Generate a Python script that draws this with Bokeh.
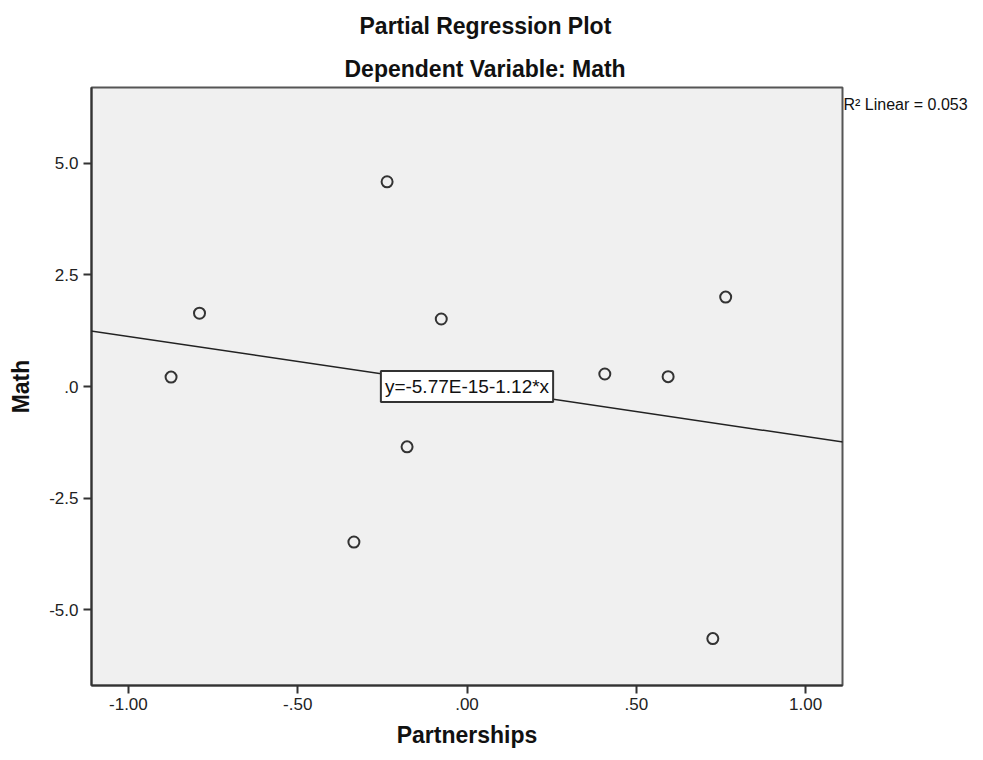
from bokeh.plotting import figure
from bokeh.models import Range1d, Label, Slope, FixedTicker, Title, LinearAxis
from bokeh.embed import file_html
from bokeh.resources import INLINE

# ---- data ----
partnerships = [-0.874, -0.790, -0.236, -0.076, -0.177, -0.334, 0.407, 0.594, 0.764, 0.726]
math_vals = [0.21, 1.64, 4.58, 1.51, -1.35, -3.48, 0.28, 0.22, 2.00, -5.64]
x_ticks = [-1.0, -0.5, 0.0, 0.5, 1.0]
x_tick_labels = ["-1.00", "-.50", ".00", ".50", "1.00"]
y_ticks = [-5.0, -2.5, 0.0, 2.5, 5.0]
y_tick_labels = ["-5.0", "-2.5", ".0", "2.5", "5.0"]
fit_intercept = -5.77e-15
fit_slope = -1.12
r_squared = 0.053
title_text = "Partial Regression Plot"
subtitle_text = "Dependent Variable: Math"
x_label = "Partnerships"
y_label = "Math"

FONT = "Liberation Sans"
DARK = "#333333"

p = figure(width=975, height=752, output_backend="svg", toolbar_location=None,
           x_range=Range1d(-1.109, 1.109), y_range=Range1d(-6.69, 6.69),
           min_border_left=91, min_border_right=133, min_border_top=87, min_border_bottom=67,
           title=None)

p.background_fill_color = "#f0f0f0"
p.border_fill_color = "white"
p.outline_line_color = "#555555"
p.outline_line_width = 2
p.grid.visible = False

for ax, ticks, labels in ((p.xaxis[0], x_ticks, x_tick_labels), (p.yaxis[0], y_ticks, y_tick_labels)):
    ax.ticker = FixedTicker(ticks=ticks)
    ax.major_label_overrides = {t: l for t, l in zip(ticks, labels)}
    ax.minor_tick_line_color = None
    ax.major_tick_in = 0
    ax.major_tick_out = 8
    ax.major_tick_line_color = DARK
    ax.major_tick_line_width = 2
    ax.axis_line_color = DARK
    ax.axis_line_width = 2
    ax.major_label_text_font = FONT
    ax.major_label_text_font_size = "17px"
    ax.major_label_text_color = "#222222"
    ax.axis_label_text_font = FONT
    ax.axis_label_text_font_size = "23px"
    ax.axis_label_text_font_style = "bold"
    ax.axis_label_text_color = "#111111"

p.xaxis.axis_label = x_label
p.yaxis.axis_label = y_label
p.xaxis.major_label_standoff = 4
p.yaxis.major_label_standoff = 5
p.xaxis.axis_label_standoff = 9
p.yaxis.axis_label_standoff = 12

# titles (first added sits closest to the frame)
p.add_layout(Title(text=subtitle_text, align="left", text_font=FONT, text_font_size="23px",
                   text_font_style="bold", text_color="#111111", standoff=12, offset=253), "above")
p.add_layout(Title(text=title_text, align="left", text_font=FONT, text_font_size="23px",
                   text_font_style="bold", text_color="#111111", standoff=18, offset=268), "above")

# regression line
p.add_layout(Slope(gradient=fit_slope, y_intercept=fit_intercept,
                   line_color="#222222", line_width=1.5))

# points
p.scatter(partnerships, math_vals, size=11, marker="circle",
          fill_color=None, line_color=DARK, line_width=2)

# equation box
eq_text = f"y={fit_intercept:.2E}{fit_slope:+.2f}*x".replace("E-0", "E-").replace("E+0", "E+")
p.add_layout(Label(x=0, y=fit_intercept, text=eq_text,
                   text_align="center", text_baseline="middle",
                   text_font=FONT, text_font_size="19px", text_color="#111111",
                   background_fill_color="white", border_line_color=DARK, border_line_width=2,
                   padding=dict(x=4, y=5)))

# R squared, shown at the top right just outside the frame (as a right-side axis tick label)
r2_anchor = 6.3
r2_axis = LinearAxis(ticker=FixedTicker(ticks=[r2_anchor]),
                     major_label_overrides={r2_anchor: f"R\u00b2 Linear = {r_squared:.3f}"},
                     axis_line_color=None, major_tick_line_color=None, minor_tick_line_color=None,
                     major_tick_in=0, major_tick_out=0, major_label_standoff=1,
                     major_label_text_font=FONT, major_label_text_font_size="16px",
                     major_label_text_color="#111111")
p.add_layout(r2_axis, "right")

open("out.html", "w").write(file_html(p, INLINE))
